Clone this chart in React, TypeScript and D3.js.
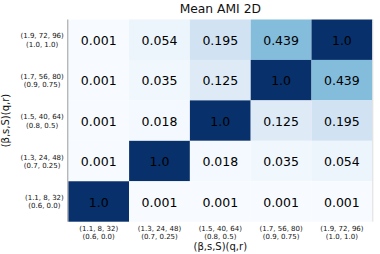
import { useEffect, useRef } from 'react';
import * as d3 from 'd3';

// parameter combos, bottom-to-top on y / left-to-right on x
const paramLine1 = ['(1.1, 8, 32)', '(1.3, 24, 48)', '(1.5, 40, 64)', '(1.7, 56, 80)', '(1.9, 72, 96)'];
const paramLine2 = ['(0.6, 0.0)', '(0.7, 0.25)', '(0.8, 0.5)', '(0.9, 0.75)', '(1.0, 1.0)'];

// rows listed top-to-bottom as shown in the chart
const rowKeys = [4, 3, 2, 1, 0];
const amiValues = [
  [0.001, 0.054, 0.195, 0.439, 1.0],
  [0.001, 0.035, 0.125, 1.0, 0.439],
  [0.001, 0.018, 1.0, 0.125, 0.195],
  [0.001, 1.0, 0.018, 0.035, 0.054],
  [1.0, 0.001, 0.001, 0.001, 0.001],
];

const chartTitle = 'Mean AMI 2D';
const axisLabel = '(β,s,S)(q,r)';

const W = 380;
const H = 254;
const FONT = 'DejaVu Sans, sans-serif';

export default function App() {
  const svgRef = useRef<SVGSVGElement>(null);

  useEffect(() => {
    document.body.style.margin = '0';
    if (!svgRef.current) return;
    const svg = d3.select(svgRef.current);
    svg.selectAll('*').remove();

    const margin = { top: 19.5, right: 7.7, bottom: 32.3, left: 68.3 };
    const innerW = W - margin.left - margin.right;
    const innerH = H - margin.top - margin.bottom;

    const idx = d3.range(5);
    const x = d3.scaleBand<number>().domain(idx).range([0, innerW]);
    const y = d3.scaleBand<number>().domain(rowKeys).range([0, innerH]);

    // matplotlib-style Blues (linear between the 9 brewer stops)
    const color = d3
      .scaleLinear<string>()
      .domain(d3.range(9).map((i) => i / 8))
      .range(d3.schemeBlues[9] as string[])
      .interpolate(d3.interpolateRgb)
      .clamp(true);

    const cells = amiValues.flatMap((row, r) =>
      row.map((v, c) => ({ row: rowKeys[r], col: c, value: v }))
    );

    const g = svg
      .append('g')
      .attr('transform', `translate(${margin.left},${margin.top})`);

    g.selectAll('rect')
      .data(cells)
      .join('rect')
      .attr('x', (d) => x(d.col) || 0)
      .attr('y', (d) => y(d.row) || 0)
      .attr('width', x.bandwidth())
      .attr('height', y.bandwidth())
      .attr('fill', (d) => color(d.value));

    g.selectAll('.cell-label')
      .data(cells)
      .join('text')
      .attr('class', 'cell-label')
      .attr('x', (d) => (x(d.col) || 0) + x.bandwidth() / 2)
      .attr('y', (d) => (y(d.row) || 0) + y.bandwidth() / 2)
      .attr('dy', '0.42em')
      .attr('text-anchor', 'middle')
      .attr('font-family', FONT)
      .attr('font-size', '12.5px')
      .attr('fill', '#000')
      .text((d) => (d.value === 1 ? '1.0' : d.value.toFixed(3)));

    // left edge line
    g.append('line')
      .attr('x1', -0.5)
      .attr('x2', -0.5)
      .attr('y1', 0)
      .attr('y2', innerH)
      .attr('stroke', '#9a9a9a')
      .attr('stroke-width', 1);
    g.append('line')
      .attr('x1', innerW + 0.5)
      .attr('x2', innerW + 0.5)
      .attr('y1', 0)
      .attr('y2', innerH)
      .attr('stroke', '#dcdcdc')
      .attr('stroke-width', 1);

    // x tick labels
    const xt = g
      .selectAll('.xtick')
      .data(idx)
      .join('text')
      .attr('class', 'xtick')
      .attr('text-anchor', 'middle')
      .attr('font-family', FONT)
      .attr('font-size', '7px')
      .attr('fill', '#111');
    xt.append('tspan')
      .attr('x', (d) => (x(d) || 0) + x.bandwidth() / 2)
      .attr('y', innerH + 9.5)
      .text((d) => paramLine1[d]);
    xt.append('tspan')
      .attr('x', (d) => (x(d) || 0) + x.bandwidth() / 2)
      .attr('y', innerH + 17.5)
      .text((d) => paramLine2[d]);

    // y tick labels: right-aligned block, lines centred on each other
    const yt = g
      .selectAll('.ytick')
      .data(idx)
      .join('g')
      .attr('class', 'ytick')
      .attr('transform', (d) => `translate(0,${(y(d) || 0) + y.bandwidth() / 2})`);
    yt.each(function (d) {
      const grp = d3.select(this);
      const t1 = grp
        .append('text')
        .attr('text-anchor', 'middle')
        .attr('font-family', FONT)
        .attr('font-size', '7px')
        .attr('fill', '#111')
        .attr('y', -1.5)
        .text(paramLine1[d]);
      const t2 = grp
        .append('text')
        .attr('text-anchor', 'middle')
        .attr('font-family', FONT)
        .attr('font-size', '7px')
        .attr('fill', '#111')
        .attr('y', 7)
        .text(paramLine2[d]);
      const w = Math.max(
        (t1.node() as SVGTextElement).getComputedTextLength(),
        (t2.node() as SVGTextElement).getComputedTextLength()
      );
      const cx = -4.5 - w / 2;
      t1.attr('x', cx);
      t2.attr('x', cx);
    });

    // axis labels
    svg
      .append('text')
      .attr('x', margin.left + innerW / 2)
      .attr('y', 250)
      .attr('text-anchor', 'middle')
      .attr('font-family', FONT)
      .attr('font-size', '10px')
      .attr('fill', '#111')
      .text(axisLabel);

    svg
      .append('text')
      .attr('transform', `translate(9,${margin.top + innerH / 2}) rotate(-90)`)
      .attr('text-anchor', 'middle')
      .attr('font-family', FONT)
      .attr('font-size', '10px')
      .attr('fill', '#111')
      .text(axisLabel);

    svg
      .append('text')
      .attr('x', margin.left + innerW / 2)
      .attr('y', 12.5)
      .attr('text-anchor', 'middle')
      .attr('font-family', FONT)
      .attr('font-size', '12.3px')
      .attr('fill', '#111')
      .text(chartTitle);
  }, []);

  return <svg ref={svgRef} width={W} height={H} style={{ display: 'block' }} />;
}
